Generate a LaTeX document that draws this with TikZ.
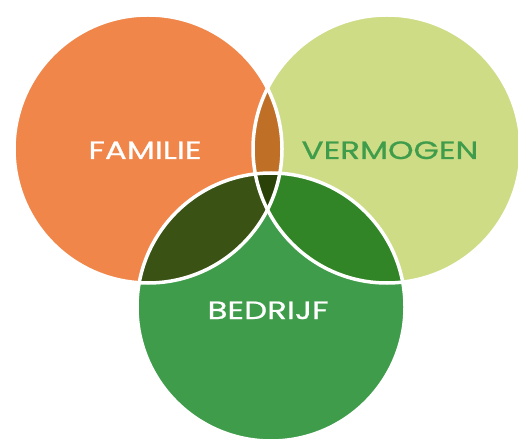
\documentclass[tikz,border=0pt]{standalone}
\usepackage{fontspec}
\setmainfont{Poppins}[FakeStretch=1.3, FakeBold=0.8]
\definecolor{cfam}{RGB}{240,134,74}
\definecolor{cverm}{RGB}{206,220,134}
\definecolor{cbed}{RGB}{62,156,74}
\definecolor{cfv}{RGB}{192,112,38}
\definecolor{cfb}{RGB}{58,82,20}
\definecolor{cvb}{RGB}{50,133,38}
\definecolor{call}{RGB}{42,66,8}
\definecolor{ctxt}{RGB}{62,156,74}
\begin{document}
\begin{tikzpicture}[x=1pt,y=-1pt,
  lbl/.style={font=\fontsize{25}{28}\selectfont, inner sep=0pt, anchor=base},
  rim/.style={draw=white, line width=3.5pt}]
\useasboundingbox (0,0) rectangle (518,438);
\clip (0,0) rectangle (518,438);
\coordinate (F) at (148,149);
\coordinate (V) at (387,149);
\coordinate (B) at (271,307);
\def\R{134}
\fill[cfam] (F) circle[radius=\R];
\fill[cverm] (V) circle[radius=\R];
\fill[cbed] (B) circle[radius=\R];
\begin{scope}
  \clip (F) circle[radius=\R];
  \fill[cfv] (V) circle[radius=\R];
  \fill[cfb] (B) circle[radius=\R];
\end{scope}
\begin{scope}
  \clip (V) circle[radius=\R];
  \fill[cvb] (B) circle[radius=\R];
  \clip (F) circle[radius=\R];
  \fill[call] (B) circle[radius=\R];
\end{scope}
\draw[rim] (F) circle[radius=\R];
\draw[rim] (V) circle[radius=\R];
\draw[rim] (B) circle[radius=\R];
\node[lbl, text=white] (fam) at (145,159) {FAMILIE};
\node[lbl, text=ctxt] (verm) at (390,159) {VERMOGEN};
\node[lbl, text=white] (bed) at (268,319) {BEDRIJF};
\end{tikzpicture}
\end{document}
